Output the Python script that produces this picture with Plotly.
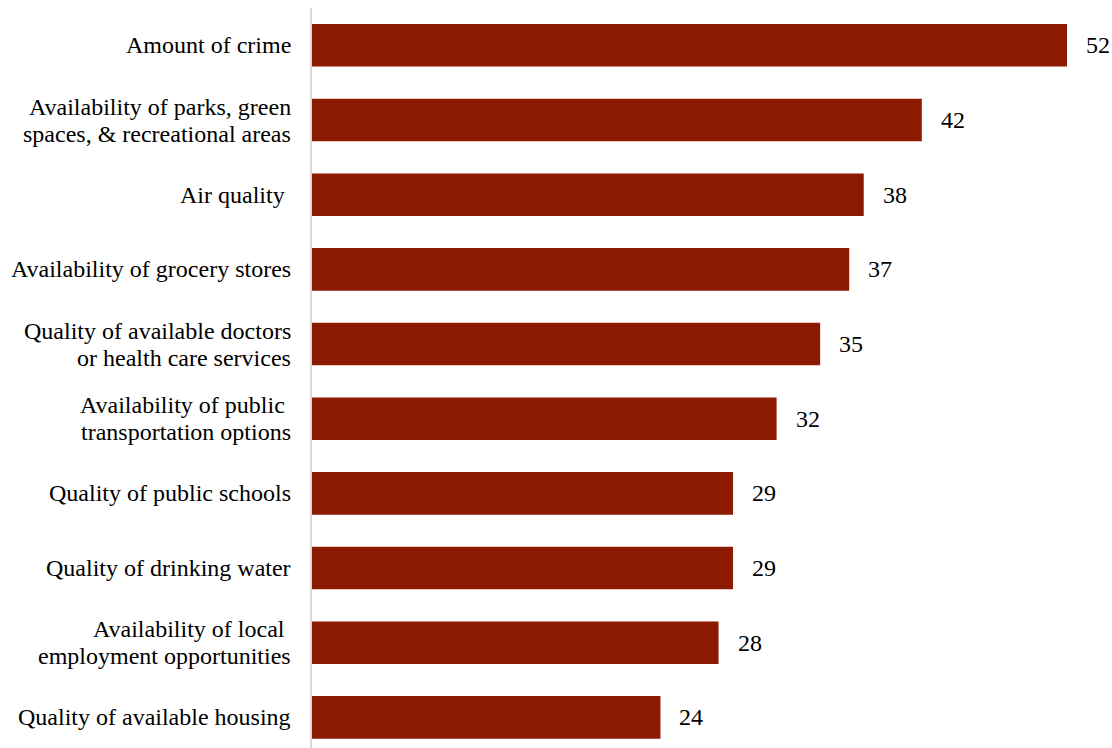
import plotly.graph_objects as go

categories = [
    "Amount of crime",
    "Availability of parks, green<br>spaces, & recreational areas",
    "Air quality ",
    "Availability of grocery stores",
    "Quality of available doctors<br>or health care services",
    "Availability of public <br>transportation options",
    "Quality of public schools",
    "Quality of drinking water",
    "Availability of local <br>employment opportunities",
    "Quality of available housing",
]
values = [52, 42, 38, 37, 35, 32, 29, 29, 28, 24]

BAR_COLOR = "#8B1A00"
FONT = "Liberation Serif, Times New Roman, serif"
FONT_SIZE = 24
LINE_STEP = 27  # px between lines of a wrapped category label

fig = go.Figure(
    go.Bar(
        x=values,
        y=categories,
        orientation="h",
        marker=dict(color=BAR_COLOR, line=dict(width=0)),
        hoverinfo="skip",
    )
)

for cat, v in zip(categories, values):
    # value label to the right of each bar
    fig.add_annotation(
        x=v, y=cat, text=str(v), showarrow=False,
        xanchor="left", xshift=17,
        font=dict(family=FONT, size=FONT_SIZE, color="#000000"),
    )
    # category label, right-aligned left of the axis line, one line at a time
    lines = cat.split("<br>")
    n = len(lines)
    for i, line in enumerate(lines):
        fig.add_annotation(
            x=0, xref="paper", y=cat, text=line, showarrow=False,
            xanchor="right", yanchor="middle", xshift=-19,
            yshift=((n - 1) / 2 - i) * LINE_STEP,
            font=dict(family=FONT, size=FONT_SIZE, color="#000000"),
        )

fig.update_layout(
    width=1112,
    height=748,
    margin=dict(l=312, r=0, t=8, b=0),
    paper_bgcolor="white",
    plot_bgcolor="white",
    bargap=0.43,
    showlegend=False,
    font=dict(family=FONT, size=FONT_SIZE, color="#000000"),
)
fig.update_xaxes(
    range=[0, 55.1],
    visible=False,
)
fig.update_yaxes(
    type="category",
    range=[9.41, -0.5],
    showline=True,
    linecolor="#d9d9d9",
    linewidth=2,
    showgrid=False,
    ticks="",
    showticklabels=False,
)

fig.write_html("out.html")
